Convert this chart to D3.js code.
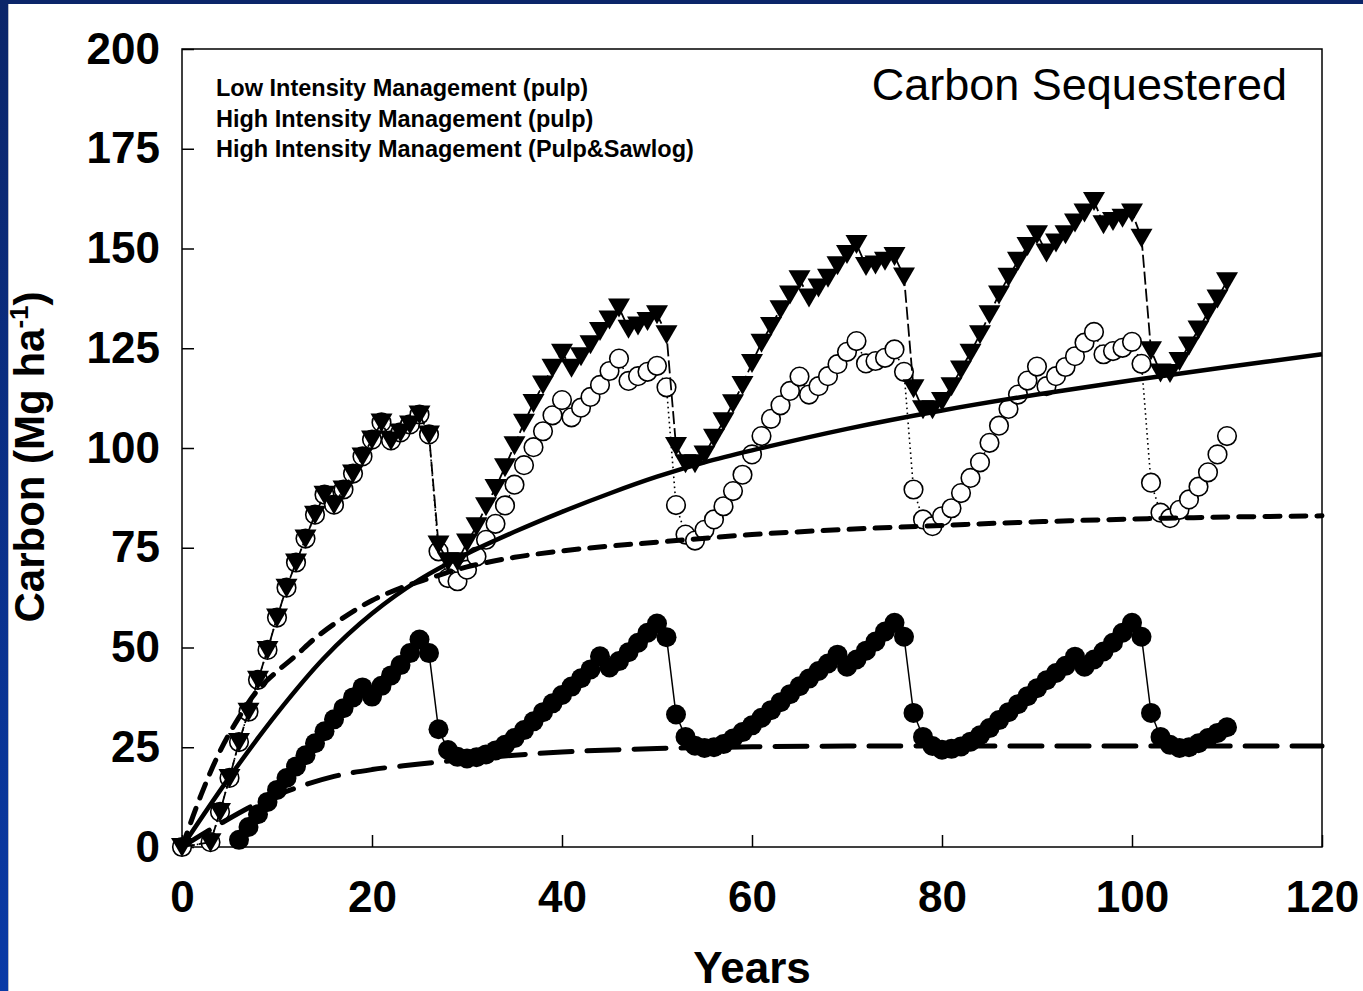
<!DOCTYPE html>
<html><head><meta charset="utf-8">
<script src="https://cdn.jsdelivr.net/npm/d3@7"></script>
<style>html,body{margin:0;padding:0;background:#fff;overflow:hidden}</style>
</head><body>
<svg id="c" width="1363" height="991"></svg>
<script>
// ---------- data ----------
const xTicks = [0, 20, 40, 60, 80, 100, 120];
const yTicks = [0, 25, 50, 75, 100, 125, 150, 175, 200];
const legendLabels = ["Low Intensity Management (pulp)", "High Intensity Management (pulp)", "High Intensity Management (Pulp&Sawlog)"];
const titleText = "Carbon Sequestered";

// Low Intensity Management (pulp) - filled circles
const limYears = [6,7,8,9,10,11,12,13,14,15,16,17,18,19,20,21,22,23,24,25,26,27,28,29,30,31,32,33,34,35,36,37,38,39,40,41,42,43,44,45,46,47,48,49,50,51,52,53,54,55,56,57,58,59,60,61,62,63,64,65,66,67,68,69,70,71,72,73,74,75,76,77,78,79,80,81,82,83,84,85,86,87,88,89,90,91,92,93,94,95,96,97,98,99,100,101,102,103,104,105,106,107,108,109,110];
const limValues = [
  1.8, 5.0, 8.2, 11.3, 14.3, 17.3, 20.2, 23.0, 26.0, 29.0,
  32.0, 34.8, 37.5, 40.0, 37.7, 40.4, 43.0, 45.6, 48.6, 52.0,
  48.6, 29.5, 24.3, 22.6, 22.2, 22.5, 23.2, 24.2, 25.6, 27.3,
  29.3, 31.5, 33.8, 36.0, 38.1, 40.2, 42.3, 44.5, 47.8, 45.0,
  46.6, 48.8, 51.2, 53.7, 56.0, 52.6, 33.2, 27.6, 25.4, 24.8,
  25.0, 25.8, 27.2, 28.8, 30.5, 32.4, 34.3, 36.3, 38.3, 40.3,
  42.2, 44.1, 46.0, 48.2, 45.2, 47.0, 49.2, 51.5, 54.0, 56.2,
  52.7, 33.6, 27.6, 25.3, 24.4, 24.6, 25.2, 26.4, 28.0, 29.8,
  31.8, 33.8, 35.8, 37.8, 39.8, 41.8, 43.6, 45.4, 47.7, 45.2,
  47.0, 49.0, 51.2, 53.7, 56.2, 52.7, 33.6, 27.6, 25.6, 24.8,
  25.0, 26.0, 27.3, 28.6, 30.0
];

// High Intensity Management years (both HIM series)
const himYears = [0,3,4,5,6,7,8,9,10,11,12,13,14,15,16,17,18,19,20,21,22,23,24,25,26,27,28,29,30,31,32,33,34,35,36,37,38,39,40,41,42,43,44,45,46,47,48,49,50,51,52,53,54,55,56,57,58,59,60,61,62,63,64,65,66,67,68,69,70,71,72,73,74,75,76,77,78,79,80,81,82,83,84,85,86,87,88,89,90,91,92,93,94,95,96,97,98,99,100,101,102,103,104,105,106,107,108,109,110];

// High Intensity Management (pulp) - open circles
const himPulpValues = [
  0, 1.2, 8.8, 17.3, 26.3, 33.9, 41.9, 49.4, 57.5, 65.0, 71.3, 77.3, 83.3,
  88.3, 85.8, 89.6, 93.6, 97.9, 102.1, 106.4, 101.9, 103.9, 105.9, 108.4, 103.4, 74.1,
  67.4, 66.6, 69.5, 72.8, 77.0, 81.0, 85.6, 90.8, 95.7, 100.2,
  104.2, 108.2, 112.0, 107.7, 110.1, 112.8, 115.8, 119.3, 122.4, 116.8,
  118.0, 119.1, 120.6, 115.2, 85.7, 78.3, 76.8, 79.5, 82.1, 85.4,
  89.2, 93.3, 98.4, 103.0, 107.3, 110.7, 114.3, 117.9, 113.4, 115.5,
  118.0, 121.0, 124.1, 126.8, 121.2, 121.8, 122.6, 124.7, 119.1, 89.6,
  82.1, 80.4, 82.9, 84.9, 88.7, 92.5, 96.4, 101.3, 105.6, 109.8,
  113.4, 116.9, 120.4, 115.5, 118.0, 120.3, 123.0, 126.4, 129.1, 123.5,
  124.3, 125.1, 126.6, 121.1, 91.3, 83.8, 82.4, 84.5, 87.1, 90.3,
  93.9, 98.4, 103.0
];

// High Intensity Management (Pulp&Sawlog) - filled down triangles
const himSawValues = [
  0, 1.2, 8.8, 17.3, 26.3, 33.9, 41.9, 49.4, 57.5, 65.0, 71.3, 77.3, 83.3,
  88.3, 85.8, 89.6, 93.6, 97.9, 102.1, 106.4, 101.9, 103.9, 105.9, 108.4, 103.4, 75.8,
  71.6, 71.6, 76.3, 80.4, 85.4, 90.0, 95.2, 100.7, 106.3, 111.3,
  115.9, 120.1, 123.9, 120.1, 123.0, 126.0, 129.3, 132.2, 135.2, 129.9,
  130.7, 131.8, 133.5, 128.5, 100.5, 96.2, 96.2, 98.4, 102.6, 106.7,
  111.2, 115.8, 121.3, 126.4, 130.6, 134.8, 138.5, 142.3, 137.7, 140.2,
  142.7, 145.8, 148.6, 151.1, 145.6, 146.0, 146.9, 148.1, 143.0, 115.0,
  109.7, 109.7, 111.8, 115.5, 119.7, 123.9, 128.5, 133.5, 138.5, 142.9,
  146.9, 150.6, 153.6, 149.0, 151.5, 153.6, 156.5, 159.0, 161.9, 156.1,
  156.9, 157.7, 159.0, 152.7, 124.5, 118.9, 118.8, 121.8, 125.7, 129.7,
  134.0, 137.5, 141.8
];

// Smooth long-term average curves
const solidYears  = [0, 5, 10, 15, 20, 25, 30, 35, 40, 45, 50, 55, 60, 70, 80, 90, 100, 110, 120];
const solidValues = [0, 17.5, 33.5, 47.5, 58.5, 67, 73.5, 79, 84, 88.6, 92.8, 96.4, 99.4, 104.8, 109.4, 113.4, 117, 120.3, 123.5];
const dashYears   = [0, 2, 4, 6, 8, 10, 12, 14, 17, 20, 23, 26, 30, 35, 40, 45, 50, 60, 70, 80, 90, 100, 110, 120];
const dashValues  = [0, 13, 24, 32.5, 39.4, 44, 48, 52.3, 57.5, 61.8, 64.9, 67.3, 70.2, 72.6, 74.2, 75.4, 76.4, 78.3, 79.6, 80.6, 81.5, 82.2, 82.7, 83];
const longYears   = [0, 4, 8, 12, 16, 20, 25, 30, 35, 40, 50, 60, 70, 80, 100, 120];
const longValues  = [0, 5.8, 11, 14.8, 17.7, 19.4, 20.8, 22, 23, 23.8, 24.7, 25.1, 25.3, 25.3, 25.3, 25.3];

// ---------- drawing ----------
const FONT = 'Liberation Sans, Arial, sans-serif';
const svg = d3.select('#c');
const defs = svg.append('defs');
const grad = defs.append('linearGradient').attr('id', 'lg').attr('x1', 0).attr('y1', 0).attr('x2', 0).attr('y2', 1);
grad.append('stop').attr('offset', '0%').attr('stop-color', '#0b2569');
grad.append('stop').attr('offset', '100%').attr('stop-color', '#0a3aa6');

svg.append('rect').attr('x', 0).attr('y', 0).attr('width', 1363).attr('height', 991).attr('fill', '#fff');
svg.append('rect').attr('x', 0).attr('y', 0).attr('width', 8).attr('height', 991).attr('fill', 'url(#lg)');
svg.append('rect').attr('x', 0).attr('y', 0).attr('width', 1363).attr('height', 4).attr('fill', '#0b2569');
svg.append('line').attr('x1', 8.5).attr('x2', 8.5).attr('y1', 4).attr('y2', 991).attr('stroke', '#b8bcc8').attr('stroke-width', 1);

const x = d3.scaleLinear().domain([0, 120]).range([182, 1322]);
const y = d3.scaleLinear().domain([0, 200]).range([847, 49]);

// frame
svg.append('rect').attr('x', x(0)).attr('y', y(200)).attr('width', x(120) - x(0)).attr('height', y(0) - y(200))
  .attr('fill', 'none').attr('stroke', '#000').attr('stroke-width', 1.5);

const yAxis = d3.axisLeft(y).tickValues(yTicks).tickSizeInner(-12).tickSizeOuter(0).tickPadding(22);
const gy = svg.append('g').attr('transform', `translate(${x(0)},0)`).call(yAxis);
gy.select('.domain').remove();
gy.selectAll('line').attr('stroke', '#000').attr('stroke-width', 1.5);
gy.selectAll('text').attr('font-family', FONT).attr('font-weight', 'bold').attr('font-size', 44).attr('fill', '#000');

const xAxis = d3.axisBottom(x).tickValues(xTicks).tickSizeInner(-12).tickSizeOuter(0).tickPadding(34);
const gx = svg.append('g').attr('transform', `translate(0,${y(0)})`).call(xAxis);
gx.select('.domain').remove();
gx.selectAll('line').attr('stroke', '#000').attr('stroke-width', 1.5);
gx.selectAll('text').attr('font-family', FONT).attr('font-weight', 'bold').attr('font-size', 44).attr('fill', '#000');

// axis titles
svg.append('text').attr('x', 752).attr('y', 983).attr('text-anchor', 'middle')
  .attr('font-family', FONT).attr('font-weight', 'bold').attr('font-size', 44).text('Years');
const yt = svg.append('text').attr('transform', 'translate(44,457) rotate(-90)').attr('text-anchor', 'middle')
  .attr('font-family', FONT).attr('font-weight', 'bold').attr('font-size', 42);
yt.append('tspan').text('Carbon (Mg ha');
yt.append('tspan').attr('font-size', 26).attr('dy', -16).text('-1');
yt.append('tspan').attr('dy', 16).text(')');

// legend text & title
legendLabels.forEach((t, i) => {
  svg.append('text').attr('x', 216).attr('y', 96 + i * 30.5)
    .attr('font-family', FONT).attr('font-weight', 'bold').attr('font-size', 23.5).text(t);
});
svg.append('text').attr('x', 1287).attr('y', 100).attr('text-anchor', 'end')
  .attr('font-family', FONT).attr('font-size', 45).text(titleText);

const line = d3.line().x(d => x(d[0])).y(d => y(d[1]));
const zip = (a, b) => a.map((v, i) => [v, b[i]]);

const lim = zip(limYears, limValues);
const hp = zip(himYears, himPulpValues);
const hs = zip(himYears, himSawValues);

// LIM
svg.append('path').datum(lim).attr('d', line).attr('fill', 'none').attr('stroke', '#000').attr('stroke-width', 1.5);
svg.append('g').selectAll('circle').data(lim).join('circle')
  .attr('cx', d => x(d[0])).attr('cy', d => y(d[1])).attr('r', 10).attr('fill', '#000');

// HIM pulp
svg.append('path').datum(hp).attr('d', line).attr('fill', 'none').attr('stroke', '#000').attr('stroke-width', 1.6).attr('stroke-dasharray', '1.6,3.4');
svg.append('g').selectAll('circle').data(hp).join('circle')
  .attr('cx', d => x(d[0])).attr('cy', d => y(d[1])).attr('r', 9.3).attr('fill', '#fff').attr('stroke', '#000').attr('stroke-width', 1.6);

// HIM pulp & sawlog
svg.append('path').datum(hs).attr('d', line).attr('fill', 'none').attr('stroke', '#000').attr('stroke-width', 1.8).attr('stroke-dasharray', '13,4');
svg.append('g').selectAll('path').data(hs).join('path')
  .attr('d', 'M-11,-9L11,-9L0,10Z').attr('transform', d => `translate(${x(d[0])},${y(d[1])})`).attr('fill', '#000');

// smooth curves on top
const smooth = d3.line().x(d => x(d[0])).y(d => y(d[1])).curve(d3.curveCatmullRom.alpha(0.5));
svg.append('path').datum(zip(solidYears, solidValues)).attr('d', smooth).attr('fill', 'none')
  .attr('stroke', '#000').attr('stroke-width', 4.5);
svg.append('path').datum(zip(dashYears, dashValues)).attr('d', smooth).attr('fill', 'none')
  .attr('stroke', '#000').attr('stroke-width', 5).attr('stroke-linecap', 'round').attr('stroke-dasharray', '15,11');
svg.append('path').datum(zip(longYears, longValues)).attr('d', smooth).attr('fill', 'none')
  .attr('stroke', '#000').attr('stroke-width', 5).attr('stroke-linecap', 'round').attr('stroke-dasharray', '32,15');
</script></body></html>
